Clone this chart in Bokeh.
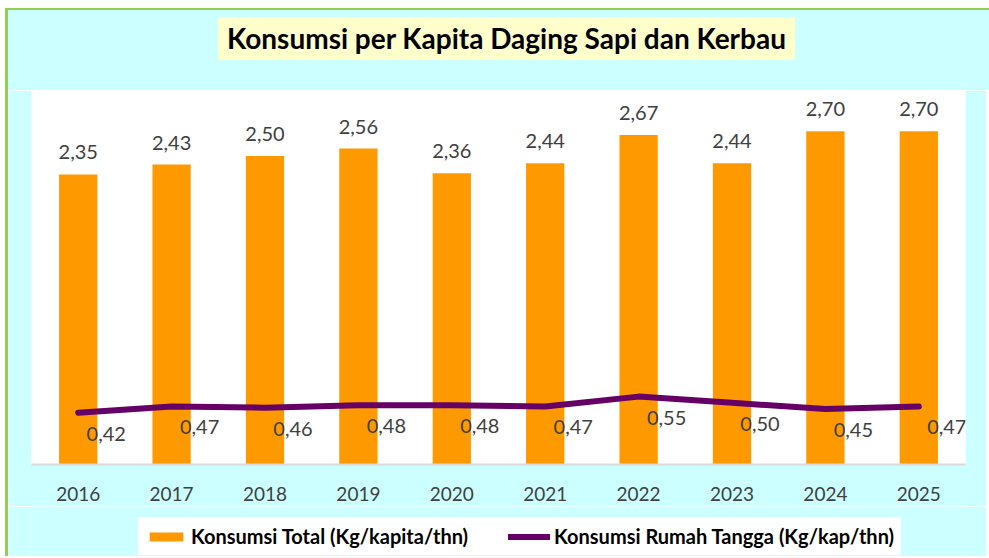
from bokeh.plotting import figure
from bokeh.layouts import column
from bokeh.models import ColumnDataSource, Range1d, FactorRange, Legend, LegendItem, Div
from bokeh.core.properties import value
from bokeh.embed import file_html
from bokeh.resources import INLINE

years = ["2016", "2017", "2018", "2019", "2020", "2021", "2022", "2023", "2024", "2025"]
konsumsi_total = [2.35, 2.43, 2.50, 2.56, 2.36, 2.44, 2.67, 2.44, 2.70, 2.70]
konsumsi_rumah_tangga = [0.42, 0.47, 0.46, 0.48, 0.48, 0.47, 0.55, 0.50, 0.45, 0.47]

title_text = "Konsumsi per Kapita Daging Sapi dan Kerbau"
label_total = "Konsumsi Total (Kg/kapita/thn)"
label_rt = "Konsumsi Rumah Tangga (Kg/kap/thn)"

BAR_COLOR = "#ff9900"
LINE_COLOR = "#660066"
BG = "#ccffff"
EDGE = "#92d050"
FONT = "Lato"


def fmt(v):
    return f"{v:.2f}".replace(".", ",")


src = ColumnDataSource(dict(
    year=years,
    total=konsumsi_total,
    rt=konsumsi_rumah_tangga,
    total_lbl=[fmt(v) for v in konsumsi_total],
    rt_lbl=[fmt(v) for v in konsumsi_rumah_tangga],
))

# ---- title strip ----
title_html = (
    f'<div style="position:relative;box-sizing:border-box;width:984px;height:82px;'
    f'background:{BG};border-left:3px solid {EDGE};border-top:2px solid {EDGE};">'
    f'<div style="position:absolute;left:210px;top:7px;width:577px;height:43px;'
    f'background:#ffffcc;font-family:{FONT};font-weight:bold;font-size:28px;'
    f'line-height:43px;text-align:center;color:black;white-space:nowrap;">'
    f'{title_text}</div></div>'
)
head = Div(text=title_html, width=984, height=82, margin=(8, 0, 0, 5))

# ---- main chart ----
p = figure(
    x_range=FactorRange(*years), y_range=Range1d(0, 3.03),
    width=981, height=416, output_backend="svg", toolbar_location=None,
    y_axis_location=None,
    min_border_left=23, min_border_right=24, min_border_top=0, min_border_bottom=42,
)
p.styles = {"margin-left": "5px", "border-left": f"3px solid {EDGE}"}
p.background_fill_color = "white"
p.border_fill_color = BG
p.outline_line_color = None
p.xgrid.grid_line_color = None
p.ygrid.grid_line_color = None

bars = p.vbar(x="year", top="total", width=0.41, fill_color=BAR_COLOR, line_color=None, source=src)
line = p.line(x="year", y="rt", line_color=LINE_COLOR, line_width=6,
              line_cap="round", line_join="round", source=src)

p.text(x="year", y="total", text="total_lbl", source=src, text_align="center",
       text_baseline="alphabetic", y_offset=-22, text_font=value(FONT),
       text_font_size="20px", text_color="#404040")
p.text(x="year", y="rt", text="rt_lbl", source=src, text_align="center",
       text_baseline="alphabetic", x_offset=28, y_offset=21, text_font=value(FONT),
       text_font_size="20px", text_color="#404040")

ax = p.xaxis[0]
ax.axis_line_color = "#d9d9d9"
ax.axis_line_width = 2
ax.major_tick_line_color = None
ax.minor_tick_line_color = None
ax.major_label_text_font = FONT
ax.major_label_text_font_size = "19px"
ax.major_label_text_color = "#404040"
ax.major_label_standoff = 16

# ---- legend strip ----
q = figure(
    x_range=FactorRange(*years), y_range=Range1d(10, 11),
    width=981, height=50, output_backend="svg", toolbar_location=None,
    x_axis_location=None, y_axis_location=None,
    min_border_left=0, min_border_right=0, min_border_top=0, min_border_bottom=0,
)
q.styles = {"margin-left": "5px", "border-left": f"3px solid {EDGE}"}
q.background_fill_color = BG
q.border_fill_color = BG
q.outline_line_color = None
q.grid.visible = False

lb = q.vbar(x="year", top="total", width=0.41, fill_color=BAR_COLOR, line_color=None, source=src)
ll = q.line(x="year", y="rt", line_color=LINE_COLOR, line_width=6,
            line_cap="round", line_join="round", source=src)

legend = Legend(
    items=[LegendItem(label=label_total, renderers=[lb]),
           LegendItem(label=label_rt, renderers=[ll])],
    orientation="horizontal", location=(107, 1), margin=0,
    glyph_width=42, glyph_height=11, label_standoff=4, spacing=40, padding=6,
    label_text_font=FONT, label_text_font_style="bold", label_text_font_size="20px",
    label_text_color="black",
    background_fill_color="white", background_fill_alpha=1.0,
    border_line_color="white", border_line_width=1,
)
q.add_layout(legend)

layout = column(head, p, q, spacing=0)
open("out.html", "w").write(file_html(layout, INLINE))
